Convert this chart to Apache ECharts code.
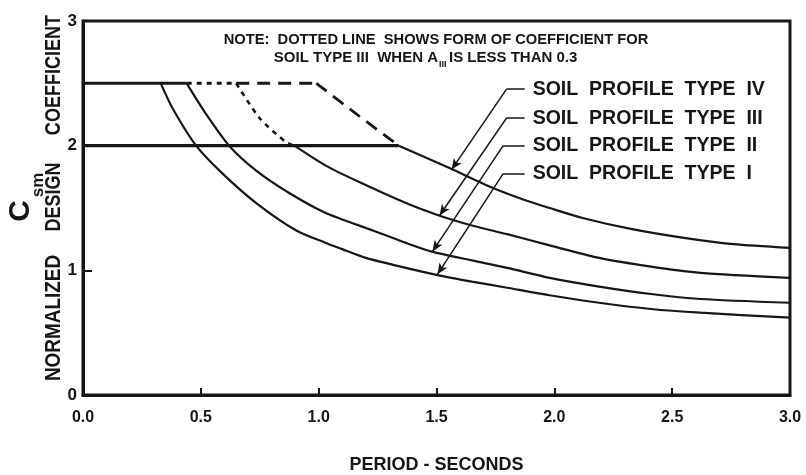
<!DOCTYPE html>
<html><head><meta charset="utf-8">
<script src="https://cdn.jsdelivr.net/npm/echarts@6/dist/echarts.min.js"></script>
<style>html,body{margin:0;padding:0;background:#fff}#c{width:806px;height:475px}</style>
</head><body><div id="c"></div>
<script>
// ---- tick labels ----
const xTickLabels = ['0.0','0.5','1.0','1.5','2.0','2.5','3.0'];
const yTickLabels = ['0','1','2','3'];

// ---- curves (period T in s, normalized coefficient C) ----
const plateau_T = [0, 0.44];
const plateau_C = [2.5, 2.5];
const cap_T = [0, 1.34];
const cap_C = [2.0, 2.0];

const typeI_T = [0.33,0.38,0.48,0.59,0.735,0.905,1.03,1.10,1.20,1.37,1.51,1.65,1.80,1.98,2.19,2.41,2.62,3.0];
const typeI_C = [2.5,2.30,2.0,1.78,1.54,1.32,1.22,1.17,1.10,1.02,0.96,0.91,0.86,0.80,0.74,0.69,0.66,0.62];

const typeII_T = [0.44,0.52,0.62,0.735,0.875,1.03,1.23,1.37,1.48,1.65,1.80,1.98,2.19,2.41,2.62,3.0];
const typeII_C = [2.5,2.26,2.0,1.80,1.62,1.46,1.32,1.22,1.15,1.08,1.02,0.94,0.87,0.81,0.77,0.74];

const typeIII_T = [0.897,1.03,1.17,1.37,1.51,1.65,1.80,1.98,2.19,2.41,2.62,3.0];
const typeIII_C = [2.0,1.84,1.71,1.54,1.44,1.36,1.29,1.20,1.10,1.03,0.98,0.94];

const typeIV_T = [1.34,1.555,1.74,1.88,1.98,2.12,2.33,2.55,2.76,3.0];
const typeIV_C = [2.0,1.82,1.66,1.56,1.50,1.42,1.33,1.26,1.21,1.18];

// dotted form (type III, A < 0.3)
const dotPlateau_T = [0.44, 0.65];
const dotPlateau_C = [2.5, 2.5];
const dotDrop_T = [0.65, 0.75, 0.86, 0.897];
const dotDrop_C = [2.5, 2.22, 2.03, 2.0];
// dashed form (type IV)
const dashPlateau_T = [0.65, 0.99];
const dashPlateau_C = [2.5, 2.5];
const dashDrop_T = [0.99, 1.17, 1.34];
const dashDrop_C = [2.5, 2.24, 2.0];

// ---- leader annotations ----
const leaderNames = ['SOIL  PROFILE  TYPE  IV','SOIL  PROFILE  TYPE  III','SOIL  PROFILE  TYPE  II','SOIL  PROFILE  TYPE  I'];
const leaderY = [2.456, 2.224, 2.0, 1.776];
const leaderStartT = [1.874, 1.874, 1.874, 1.874];
const leaderCornerT = [1.798, 1.798, 1.783, 1.783];
const leaderTipT = [1.564, 1.513, 1.483, 1.504];
const leaderTipC = [1.808, 1.44, 1.152, 0.968];
const labelT = 1.908;

const FONT = '"Liberation Sans", Arial, Helvetica, sans-serif';
const INK = '#161616';

function pts(T, C) { return T.map((t, i) => [t, C[i]]); }
function line(name, T, C, style, smooth) {
  return { type: 'line', name: name, data: pts(T, C), symbol: 'none', smooth: smooth ? 0.25 : false,
    silent: true, animation: false, z: 3,
    lineStyle: Object.assign({ color: INK, width: 2.2, cap: 'butt' }, style) };
}

const leaderMarks = [];
for (let i = 0; i < leaderNames.length; i++) {
  leaderMarks.push([{ coord: [leaderStartT[i], leaderY[i]], symbol: 'none' },
                    { coord: [leaderCornerT[i], leaderY[i]], symbol: 'none' }]);
  leaderMarks.push([{ coord: [leaderCornerT[i], leaderY[i]], symbol: 'none' },
                    { coord: [leaderTipT[i], leaderTipC[i]], symbol: 'arrow', symbolSize: [7, 11] }]);
}

const series = [
  line('plateau', plateau_T, plateau_C, { width: 3 }, false),
  line('cap', cap_T, cap_C, { width: 3.4 }, false),
  Object.assign(line('Type I', typeI_T, typeI_C, {}, true), {
    markLine: { silent: true, animation: false, symbol: ['none', 'none'], label: { show: false },
      emphasis: { disabled: true },
      lineStyle: { color: INK, width: 1.5, type: 'solid' }, data: leaderMarks }
  }),
  line('Type II', typeII_T, typeII_C, {}, true),
  line('Type III', typeIII_T, typeIII_C, {}, true),
  line('Type IV', typeIV_T, typeIV_C, {}, true),
  line('III dotted plateau', dotPlateau_T, dotPlateau_C, { width: 3, type: [5, 5] }, false),
  line('III dotted', dotDrop_T, dotDrop_C, { width: 2.6, type: [5, 5] }, true),
  line('IV dashed plateau', dashPlateau_T, dashPlateau_C, { width: 3, type: [13, 8] }, false),
  line('IV dashed', dashDrop_T, dashDrop_C, { width: 2.8, type: [13, 8] }, true)
];

const chart = echarts.init(document.getElementById('c'));
const bold = { color: INK, fontFamily: FONT, fontWeight: 'bold' };
chart.setOption({
  animation: false,
  backgroundColor: '#fff',
  grid: { left: 83, right: 16, top: 21, bottom: 80, show: true, borderColor: INK, borderWidth: 3,
    containLabel: false, outerBoundsMode: 'none' },
  xAxis: {
    type: 'value', min: 0, max: 3, interval: 0.5,
    axisLine: { lineStyle: { color: INK, width: 3 } },
    axisTick: { inside: true, length: 7, lineStyle: { color: INK, width: 2 } },
    splitLine: { show: false },
    axisLabel: Object.assign({ fontSize: 16, margin: 15,
      formatter: v => xTickLabels[Math.round(v / 0.5)] }, bold),
    name: 'PERIOD - SECONDS', nameLocation: 'middle', nameGap: 61,
    nameTextStyle: Object.assign({ fontSize: 18 }, bold)
  },
  yAxis: {
    type: 'value', min: 0, max: 3, interval: 1,
    axisLine: { lineStyle: { color: INK, width: 3 } },
    axisTick: { inside: true, length: 9, lineStyle: { color: INK, width: 2 } },
    splitLine: { show: false },
    axisLabel: Object.assign({ fontSize: 17, margin: 6,
      formatter: v => yTickLabels[Math.round(v)] }, bold)
  },
  series: series
});

// ---- text annotations ----
const g = [];
function txt(text, x, y, size, opts) {
  opts = opts || {};
  g.push({ type: 'text', x: x, y: y, rotation: opts.rot || 0, scaleX: opts.sx || 1, silent: true, z: 10,
    style: { text: text, fill: INK, font: 'bold ' + size + 'px ' + FONT,
      textAlign: opts.align || 'center', textVerticalAlign: 'middle' } });
}
// legend-like labels at leader starts
for (let i = 0; i < leaderNames.length; i++) {
  const p = chart.convertToPixel({ gridIndex: 0 }, [labelT, leaderY[i]]);
  txt(leaderNames[i], p[0], p[1], 21, { align: 'left', sx: 0.93 });
}
// note
txt('NOTE:  DOTTED LINE  SHOWS FORM OF COEFFICIENT FOR', 436, 40, 15, { sx: 0.98 });
txt('SOIL TYPE III  WHEN A', 438, 58, 15, { align: 'right' });
txt('III', 439, 65, 9, { align: 'left' });
txt('IS LESS THAN 0.3', 449, 58, 15, { align: 'left' });
// y-axis title
const R = Math.PI / 2;
txt('COEFFICIENT', 54, 75, 22, { rot: R, sx: 0.82 });
txt('DESIGN', 54, 197, 22, { rot: R, sx: 0.82 });
txt('NORMALIZED', 54, 318, 22, { rot: R, sx: 0.86 });
txt('C', 21, 211, 30, { rot: R });
txt('sm', 38, 185, 17, { rot: R });
chart.setOption({ graphic: g });
</script></body></html>
